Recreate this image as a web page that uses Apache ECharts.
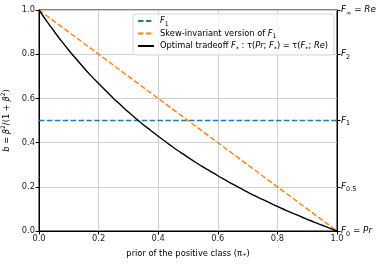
<!DOCTYPE html>
<html><head><meta charset="utf-8">
<script src="https://cdn.jsdelivr.net/npm/echarts@6/dist/echarts.min.js"></script>
<style>html,body{margin:0;padding:0;background:#fff}#c{width:381px;height:264px}</style>
</head><body><div id="c"></div>
<script>
// ---- data ----
const priorValues = [0, 0.025, 0.05, 0.075, 0.1, 0.125, 0.15, 0.175, 0.2, 0.225, 0.25, 0.275, 0.3, 0.325, 0.35, 0.375, 0.4, 0.425, 0.45, 0.475, 0.5,
  0.525, 0.55, 0.575, 0.6, 0.625, 0.65, 0.675, 0.7, 0.725, 0.75, 0.775, 0.8, 0.825, 0.85, 0.875, 0.9, 0.925, 0.95, 0.975, 1.0];
const optimalB = [1.0, 0.951, 0.905, 0.860, 0.818, 0.778, 0.739, 0.702, 0.667, 0.633, 0.6, 0.569, 0.538, 0.509, 0.481, 0.455, 0.429, 0.404, 0.379, 0.356, 0.333,
  0.311, 0.290, 0.270, 0.25, 0.231, 0.212, 0.194, 0.176, 0.159, 0.143, 0.127, 0.111, 0.096, 0.081, 0.067, 0.053, 0.039, 0.026, 0.013, 0.0];
const f1X = [0, 1];
const f1B = [0.5, 0.5];
const skewX = [0, 1];
const skewB = [1.0, 0.0];
const rightTickValues = [0, 0.2, 0.5, 0.8, 1.0];
const rightTickLabels = ['{i|F}{s|0}{n| = }{i|Pr}', '{i|F}{s|0.5}', '{i|F}{s|1}', '{i|F}{s|2}', '{i|F}{s|∞}{n| = }{i|Re}'];
const seriesNames = ['F1', 'Skew-invariant version of F1', 'Optimal tradeoff'];
const legendLabels = ['{i|F}{s|1}', '{n|Skew-invariant version of }{i|F}{s|1}', '{n|Optimal tradeoff }{i|F}{s|*}{n| : τ(}{i|Pr}{n|; }{i|F}{s|*}{n|) = τ(}{i|F}{s|*}{n|; }{i|Re}{n|)}'];

const zip = (xs, ys) => xs.map((x, i) => [x, ys[i]]);
const FONT = 'DejaVu Sans';
const FS = 8.3;
const richStyles = {
  i: {fontFamily: FONT, fontSize: FS, fontStyle: 'italic', color: '#000', lineHeight: 12, verticalAlign: 'middle'},
  n: {fontFamily: FONT, fontSize: FS, color: '#000', lineHeight: 12, verticalAlign: 'middle'},
  s: {fontFamily: FONT, fontSize: 6.2, color: '#000', lineHeight: 6, verticalAlign: 'bottom'}
};
const rightRich = {
  i: Object.assign({}, richStyles.i, {fontSize: 8.8}),
  n: Object.assign({}, richStyles.n, {fontSize: 8.8}),
  s: Object.assign({}, richStyles.s, {fontSize: 6.4})
};

const chart = echarts.init(document.getElementById('c'), null, {renderer: 'canvas'});
chart.setOption({
  animation: false,
  backgroundColor: '#fff',
  grid: {left: 39, right: 44, top: 10, bottom: 33, outerBoundsMode: 'none', containLabel: false,
    show: true, borderColor: '#000', borderWidth: 1, backgroundColor: 'transparent'},
  legend: {
    left: 133, top: 14,
    orient: 'vertical',
    itemWidth: 16, itemHeight: 10, itemGap: 2.5,
    padding: [3, 6, 3, 4],
    borderColor: '#d6d6d6', borderWidth: 1, borderRadius: 3,
    backgroundColor: 'rgba(255,255,255,0.8)',
    itemStyle: {opacity: 0},
    data: seriesNames,
    formatter: name => legendLabels[seriesNames.indexOf(name)],
    textStyle: {fontFamily: FONT, fontSize: FS, color: '#000', padding: [0, 0, 0, 1], rich: richStyles}
  },
  xAxis: {
    type: 'value', min: 0, max: 1, interval: 0.2,
    name: 'prior of the positive class (π₊)', nameLocation: 'middle', nameGap: 19,
    nameTextStyle: {fontFamily: FONT, fontSize: FS, color: '#000'},
    axisLine: {show: true, onZero: false, lineStyle: {color: '#000', width: 1}},
    axisTick: {show: true, length: 3.5, lineStyle: {color: '#000'}},
    axisLabel: {fontFamily: FONT, fontSize: FS, color: '#262626', margin: 4, formatter: v => v.toFixed(1)},
    splitLine: {show: true, lineStyle: {color: '#d0d0d0', width: 1}}
  },
  yAxis: [{
    type: 'value', min: 0, max: 1, interval: 0.2, position: 'left',
    name: '{i|b}{n| = }{i|β}{p|2}{n|/(1 + }{i|β}{p|2}{n|)}', nameLocation: 'middle', nameGap: 24, nameRotate: 90,
    nameTextStyle: {fontFamily: FONT, fontSize: FS, color: '#000', rich: Object.assign({}, richStyles, {p: {fontFamily: FONT, fontSize: 6, color: '#000', lineHeight: 7, verticalAlign: 'top'}})},
    axisLine: {show: true, onZero: false, lineStyle: {color: '#000', width: 1}},
    axisTick: {show: true, length: 3.5, lineStyle: {color: '#000'}},
    axisLabel: {fontFamily: FONT, fontSize: FS, color: '#262626', margin: 4, formatter: v => v.toFixed(1)},
    splitLine: {show: true, lineStyle: {color: '#d0d0d0', width: 1}}
  }, {
    type: 'value', min: 0, max: 1, position: 'right',
    axisLine: {show: true, onZero: false, lineStyle: {color: '#000', width: 1}},
    axisTick: {show: true, length: 3.5, customValues: rightTickValues, lineStyle: {color: '#000'}},
    axisLabel: {show: true, margin: 4, customValues: rightTickValues,
      formatter: v => rightTickLabels[rightTickValues.findIndex(t => Math.abs(t - v) < 1e-6)] || '',
      rich: rightRich},
    splitLine: {show: false}
  }],
  series: [{
    name: seriesNames[0], type: 'line', data: zip(f1X, f1B), symbol: 'none', z: 3,
    lineStyle: {color: '#1f77b4', width: 1.4, type: [5.5, 2.4]}, itemStyle: {color: '#1f77b4'}
  }, {
    name: seriesNames[1], type: 'line', data: zip(skewX, skewB), symbol: 'none', z: 3,
    lineStyle: {color: '#ff7f0e', width: 1.4, type: [5.5, 2.4]}, itemStyle: {color: '#ff7f0e'}
  }, {
    name: seriesNames[2], type: 'line', data: zip(priorValues, optimalB), symbol: 'none', smooth: 0.3, z: 4,
    lineStyle: {color: '#000', width: 1.4}, itemStyle: {color: '#000'}
  }]
});
</script></body></html>
